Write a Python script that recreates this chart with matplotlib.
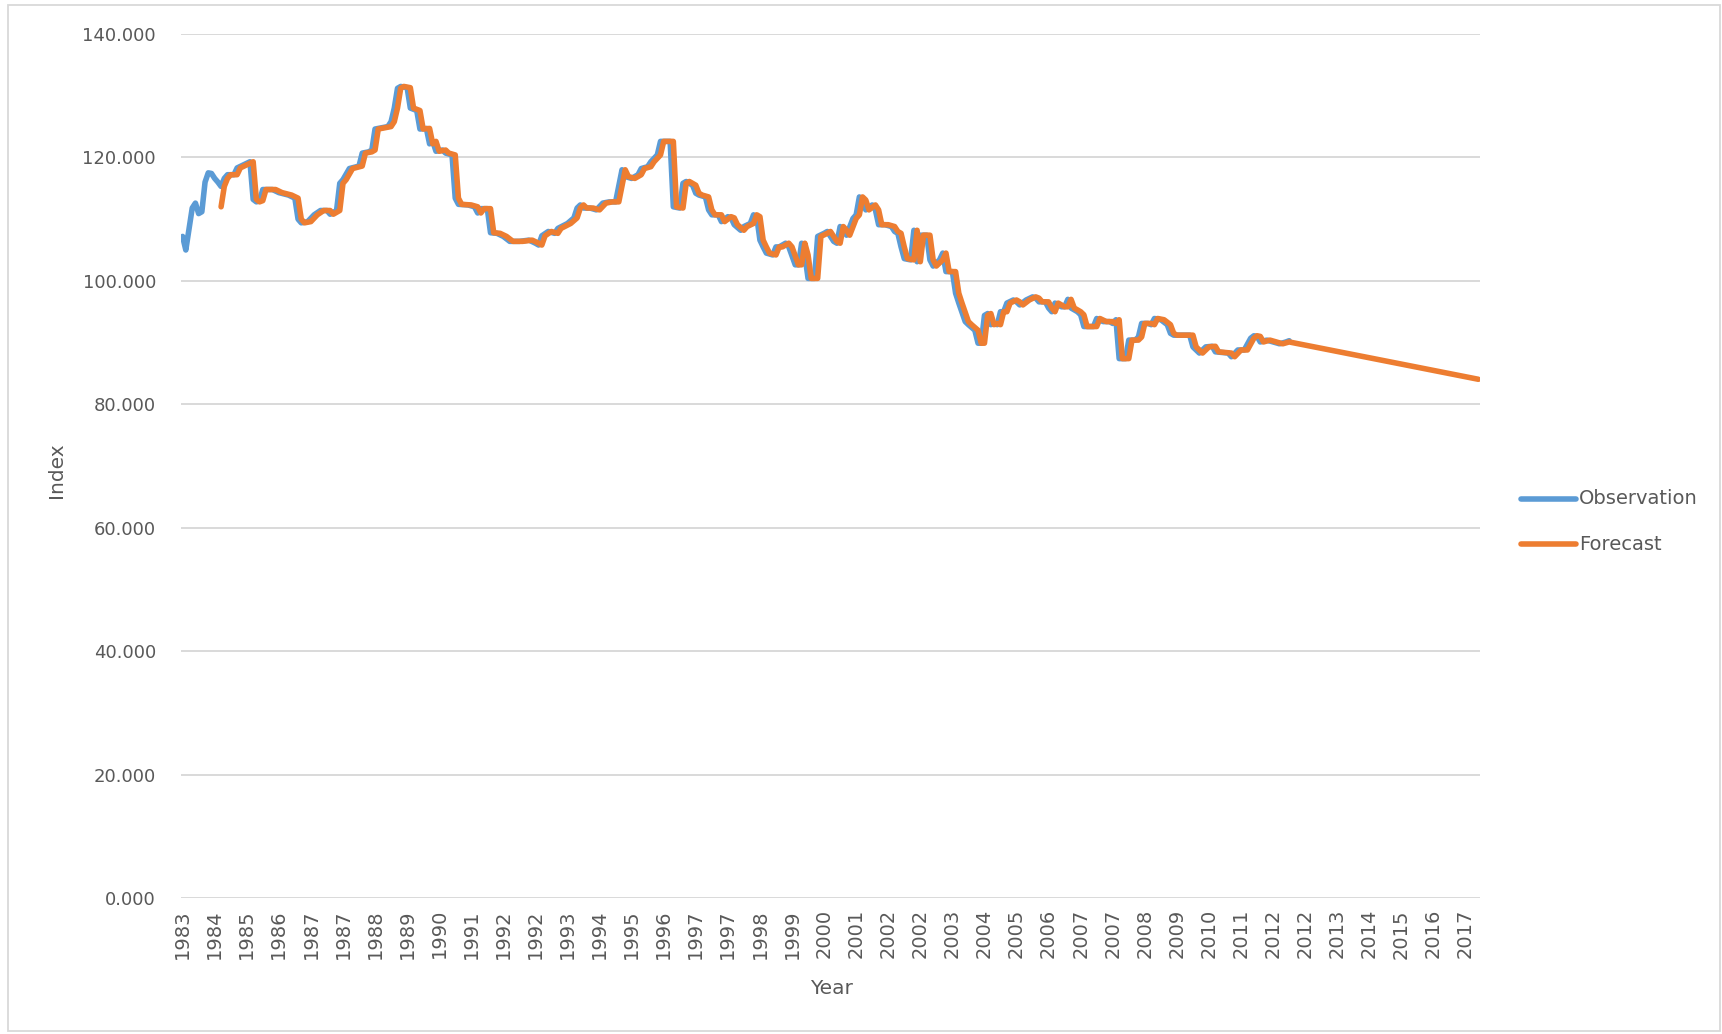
import matplotlib
matplotlib.use("Agg")
import matplotlib.pyplot as plt
from matplotlib.lines import Line2D
from matplotlib.patches import Rectangle

# ---------------- data ----------------
# x axis: monthly categories (Sep 1983 .. May 2017), label every 10th category
n_months = 405
tick_step = 10
tick_labels = ["1983", "1984", "1985", "1986", "1987", "1987", "1988", "1989", "1990",
               "1991", "1992", "1992", "1993", "1994", "1995", "1996", "1997", "1997",
               "1998", "1999", "2000", "2001", "2002", "2002", "2003", "2004", "2005",
               "2006", "2007", "2007", "2008", "2009", "2010", "2011", "2012", "2012",
               "2013", "2014", "2015", "2016", "2017"]

# Observation: month index -> index value (read at turning points)
obs_month = [0, 1, 3, 4, 5, 6, 7, 8, 9, 10, 11, 12, 13, 14, 16, 17, 19, 21, 22, 23, 24,
             25, 28, 30, 33, 35, 36, 37, 39, 41, 43, 45, 46, 48, 49, 50, 52, 55, 56, 58,
             59, 60, 62, 64, 65, 66, 67, 68, 70, 71, 73, 74, 76, 77, 78, 79, 81, 82, 84,
             85, 86, 89, 91, 92, 93, 95, 96, 98, 100, 102, 105, 108, 110, 111, 112, 114,
             116, 117, 120, 122, 123, 124, 125, 127, 129, 131, 133, 135, 137, 138, 140,
             142, 143, 145, 146, 148, 149, 152, 153, 155, 156, 157, 159, 160, 161, 163,
             164, 165, 167, 168, 170, 171, 172, 174, 175, 177, 178, 179, 180, 181, 182,
             184, 185, 186, 188, 189, 191, 192, 193, 194, 195, 197, 198, 200, 201, 203,
             204, 205, 206, 207, 209, 210, 211, 212, 213, 215, 216, 217, 219, 221, 222,
             223, 224, 225, 227, 228, 229, 230, 232, 233, 234, 236, 237, 238, 240, 241,
             242, 244, 245, 247, 248, 249, 250, 251, 252, 253, 254, 255, 256, 257, 259,
             260, 261, 263, 265, 266, 267, 269, 270, 271, 272, 274, 275, 276, 277, 279,
             280, 281, 284, 285, 287, 289, 290, 291, 292, 294, 295, 297, 298, 299, 301,
             302, 303, 305, 307, 308, 309, 314, 315, 317, 319, 321, 322, 326, 327, 329,
             331, 333, 334, 335, 336, 338, 340, 342, 344, 345]
obs_value = [107.2, 105.0, 111.8, 112.6, 110.9, 111.2, 116.0, 117.5, 117.4, 116.6, 116.0,
             115.3, 116.6, 117.2, 117.2, 118.3, 118.8, 119.3, 113.2, 112.8, 113.0, 114.8,
             114.8, 114.3, 113.9, 113.4, 110.0, 109.4, 109.6, 110.7, 111.4, 111.4, 110.8,
             111.4, 115.8, 116.4, 118.2, 118.6, 120.7, 120.9, 121.2, 124.6, 124.8, 125.0,
             125.8, 128.0, 131.2, 131.5, 131.3, 128.0, 127.6, 124.6, 124.7, 122.2, 122.6,
             121.0, 121.2, 120.7, 120.4, 113.4, 112.4, 112.3, 112.0, 111.0, 111.7, 111.7,
             107.8, 107.7, 107.2, 106.4, 106.4, 106.6, 106.1, 105.8, 107.3, 108.0, 107.7,
             108.5, 109.3, 110.2, 111.8, 112.3, 111.8, 111.8, 111.5, 112.6, 112.8, 112.8,
             118.0, 116.9, 116.6, 117.2, 118.2, 118.5, 119.3, 120.4, 122.6, 122.6, 112.0,
             111.8, 115.8, 116.1, 115.5, 114.2, 113.9, 113.6, 111.5, 110.7, 110.7, 109.6,
             110.4, 110.2, 109.1, 108.2, 108.8, 109.3, 110.7, 110.4, 106.6, 105.5, 104.5,
             104.2, 105.5, 105.5, 106.1, 105.5, 102.6, 102.6, 106.1, 104.2, 100.4, 100.4,
             107.2, 107.7, 108.0, 106.4, 106.1, 108.8, 108.2, 107.4, 110.1, 110.7, 113.6,
             113.1, 111.5, 112.3, 111.5, 109.1, 109.1, 108.8, 108.0, 107.7, 105.5, 103.6,
             103.4, 108.2, 103.1, 107.4, 107.4, 103.4, 102.4, 103.4, 104.5, 101.5, 101.5,
             98.0, 96.4, 93.4, 92.9, 92.0, 89.9, 89.9, 94.4, 94.7, 92.9, 93.1, 92.9, 95.0,
             95.0, 96.4, 96.9, 96.6, 96.1, 96.9, 97.4, 97.2, 96.6, 96.6, 95.6, 95.0, 96.4,
             95.8, 95.8, 97.0, 95.6, 95.0, 94.5, 92.6, 92.6, 93.9, 93.4, 93.4, 93.1, 93.7,
             87.4, 87.4, 90.4, 90.4, 90.9, 93.1, 93.1, 92.9, 93.9, 93.7, 92.9, 91.5, 91.2,
             91.2, 89.3, 88.3, 89.3, 89.4, 88.5, 88.3, 87.7, 88.8, 88.8, 90.7, 91.1, 91.0,
             90.1, 90.4, 90.1, 89.8, 90.1, 90.3]

# Forecast: starts one year in, then trails the observation by one month,
# and continues as a straight trend to the end of the axis.
fc_first_month = 12
fc_first_value = 112.0
fc_lag_months = 1
fc_trend_end_month = 404
fc_trend_end_value = 84.05

y_ticks = [0, 20, 40, 60, 80, 100, 120, 140]

# ---------------- build forecast series ----------------
fc_month = [fc_first_month]
fc_value = [fc_first_value]
for m, v in zip(obs_month, obs_value):
    mm = m + fc_lag_months
    if fc_first_month < mm <= obs_month[-1]:
        fc_month.append(mm)
        fc_value.append(v)
fc_month.append(fc_trend_end_month)
fc_value.append(fc_trend_end_value)

# ---------------- drawing ----------------
W, H = 1722, 1034
fig = plt.figure(figsize=(W / 100, H / 100), dpi=100)
ax = fig.add_axes([181 / W, 1 - 898 / H, 1299 / W, 864 / H])

txt = "#595959"
blue = "#5B9BD5"
orange = "#ED7D31"
grid = "#D9D9D9"
lw = 4.0

ax.plot(obs_month, obs_value, color=blue, lw=lw, solid_joinstyle="round",
        solid_capstyle="round", zorder=3)
ax.plot(fc_month, fc_value, color=orange, lw=lw, solid_joinstyle="round",
        solid_capstyle="round", zorder=4)

ax.set_xlim(-0.5, n_months - 0.5)
ax.set_ylim(0, 140)
ax.set_yticks(y_ticks)
ax.set_yticklabels([f"{t:.3f}" for t in y_ticks], fontsize=13, color=txt)
ax.set_xticks(list(range(0, n_months, tick_step))[:len(tick_labels)])
ax.set_xticklabels(tick_labels, rotation=90, fontsize=14, color=txt)
ax.tick_params(axis="both", length=0)
ax.tick_params(axis="y", pad=18)
ax.tick_params(axis="x", pad=8)
for s in ax.spines.values():
    s.set_visible(False)
ax.grid(axis="y", color=grid, lw=1.4)
ax.set_axisbelow(True)

fig.text(57 / W, 1 - 470 / H, "Index", rotation=90, ha="center", va="center",
         fontsize=14.5, color=txt)
fig.text(831 / W, 1 - 988 / H, "Year", ha="center", va="center",
         fontsize=14.5, color=txt)

# legend
for i, (lab, col) in enumerate([("Observation", blue), ("Forecast", orange)]):
    yy = 1 - (499 + 45 * i) / H
    fig.add_artist(Line2D([1521 / W, 1576 / W], [yy, yy], color=col, lw=lw,
                          solid_capstyle="round", transform=fig.transFigure))
    fig.text(1579 / W, yy, lab, ha="left", va="center", fontsize=14, color=txt)

# chart border
fig.add_artist(Rectangle((8 / W, 3 / H), 1712 / W, 1026 / H, fill=False,
                         edgecolor="#D9D9D9", lw=1.3, transform=fig.transFigure))

fig.savefig("out.png", dpi=100)
